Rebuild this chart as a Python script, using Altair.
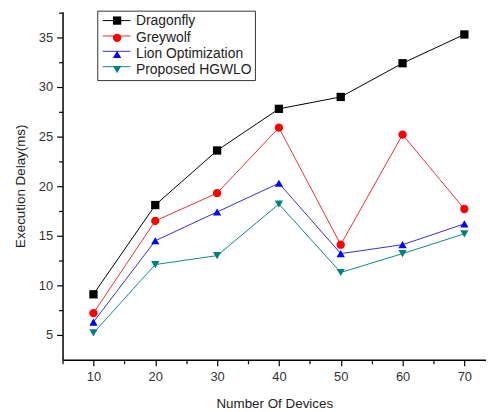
import altair as alt
import pandas as pd

devices = [10, 20, 30, 40, 50, 60, 70]
series_names = ["Dragonfly", "Greywolf", "Lion Optimization", "Proposed HGWLO"]
dragonfly = [9.1, 18.1, 23.6, 27.8, 29.0, 32.4, 35.3]
greywolf = [7.2, 16.5, 19.3, 25.9, 14.1, 25.2, 17.7]
lion = [6.3, 14.5, 17.4, 20.3, 13.2, 14.1, 16.2]
hgwlo = [5.2, 12.1, 13.0, 18.2, 11.3, 13.2, 15.2]

colors = ["#000000", "#FF0000", "#0000FF", "#008080"]
line_colors = ["#000000", "#E83030", "#3030D0", "#108888"]
shapes = ["square", "circle", "triangle-up", "triangle-down"]

rows = []
for name, vals in zip(series_names, [dragonfly, greywolf, lion, hgwlo]):
    for x, y in zip(devices, vals):
        rows.append({"series": name, "devices": x, "delay": y})
df = pd.DataFrame(rows)

font = "Liberation Sans"
x_enc = alt.X(
    "devices:Q",
    scale=alt.Scale(domain=[5, 73.5], nice=False, zero=False),
    axis=alt.Axis(
        title="Number Of Devices",
        values=[5, 10, 15, 20, 25, 30, 35, 40, 45, 50, 55, 60, 65, 70],
        labelExpr="datum.value % 10 == 0 ? datum.label : ''",
        tickSize={"condition": {"test": "datum.value % 10 != 0", "value": 4}, "value": 6},
        grid=False, labelPadding=5, titlePadding=13,
    ),
)
y_enc = alt.Y(
    "delay:Q",
    scale=alt.Scale(domain=[2.5, 37.6], nice=False, zero=False),
    axis=alt.Axis(
        title="Execution Delay(ms)",
        values=[5, 7.5, 10, 12.5, 15, 17.5, 20, 22.5, 25, 27.5, 30, 32.5, 35, 37.5],
        labelExpr="datum.value % 5 == 0 ? datum.label : ''",
        tickSize={"condition": {"test": "datum.value % 5 != 0", "value": 4}, "value": 6},
        grid=False, labelPadding=4, titlePadding=11,
    ),
)

label_size = 14
# legend A: markers + labels + frame
leg_marks = alt.Legend(
    title=None, orient="none", legendX=35, legendY=-1,
    strokeColor="#333333", padding=3,
    labelFont=font, labelFontSize=label_size, labelColor="#222222", labelOffset=12,
    symbolSize=70, symbolOpacity=1, symbolOffset=10, rowPadding=1.5, zindex=2,
)
# legend B: line segments only, overlaid under legend A
leg_lines = alt.Legend(
    title=None, orient="top-left", offset=2, padding=0,
    labelFont=font, labelFontSize=label_size, labelOpacity=0, labelOffset=5,
    symbolType="M-3,0H3", symbolSize=87, symbolStrokeWidth=1, symbolOpacity=1,
    symbolOffset=45.5, rowPadding=1.5, zindex=1,
)

base = alt.Chart(df)
lines = base.mark_line(strokeWidth=1).encode(
    x=x_enc, y=y_enc,
    color=alt.Color("series:N", scale=alt.Scale(range=line_colors), legend=leg_lines),
)
points = base.mark_point(filled=True, size=70, opacity=1).encode(
    x=x_enc, y=y_enc,
    fill=alt.Fill("series:N", scale=alt.Scale(domain=series_names, range=colors), legend=leg_marks),
    shape=alt.Shape("series:N", scale=alt.Scale(domain=series_names, range=shapes), legend=leg_marks),
)

chart = alt.layer(lines, points).properties(
    width=427, height=351,
    autosize=alt.AutoSizeParams(type="none"),
    padding={"left": 55, "top": 2, "right": 0, "bottom": 50},
).configure_view(stroke=None).configure_axis(
    domainColor="#000000", domainWidth=1.5, tickColor="#000000", tickWidth=1.2,
    labelFont=font, labelFontSize=13, labelColor="#333333",
    titleFont=font, titleFontSize=13.5, titleFontWeight="normal", titleColor="#222222",
)

chart.save("out.html", embed_options={"renderer": "svg", "actions": False})
